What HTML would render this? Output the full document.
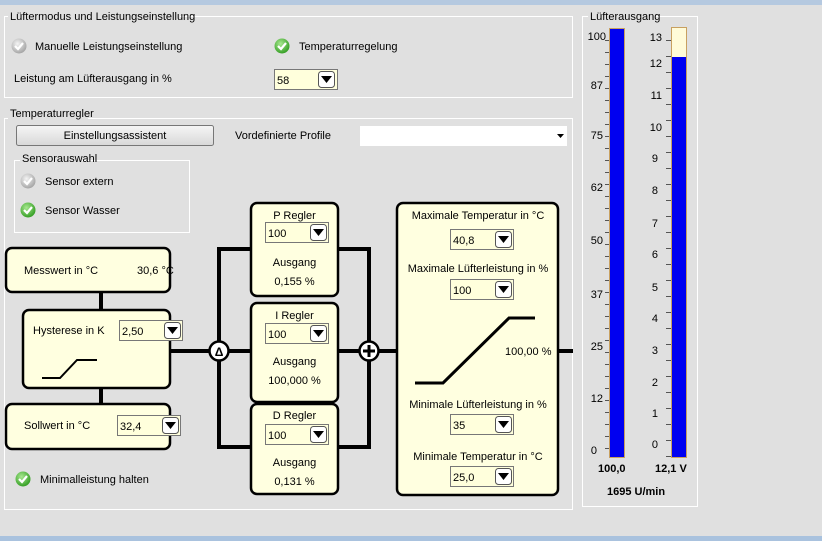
<!DOCTYPE html>
<html><head><meta charset="utf-8"><style>
html,body{margin:0;padding:0;background:#e0e0e0;}
svg{display:block;font-family:"Liberation Sans",sans-serif;font-size:11px;}
</style></head><body>
<svg width="822" height="541" viewBox="0 0 822 541" xmlns="http://www.w3.org/2000/svg">
<defs>
<radialGradient id="g" cx="0.4" cy="0.35" r="0.7"><stop offset="0" stop-color="#a8e890"/><stop offset="1" stop-color="#2e9a1e"/></radialGradient>
<radialGradient id="gr" cx="0.4" cy="0.35" r="0.7"><stop offset="0" stop-color="#f4f4f4"/><stop offset="1" stop-color="#a0a0a0"/></radialGradient>
<linearGradient id="btn" x1="0" y1="0" x2="0" y2="1"><stop offset="0" stop-color="#f6f6f6"/><stop offset="1" stop-color="#d8d8d8"/></linearGradient>
<g id="ok"><circle r="7.5" fill="url(#g)"/><path d="M-4,0 L-1,3 L4,-3" stroke="#fff" stroke-width="2.2" fill="none"/></g>
<g id="no"><circle r="7.5" fill="url(#gr)"/><path d="M-4,0 L-1,3 L4,-3" stroke="#fff" stroke-width="2.2" fill="none"/></g>
<g id="dd"><rect x="0.5" y="0.5" width="16" height="16" rx="3" fill="#fff" stroke="#555"/><path d="M3,5 L14,5 L8.5,12 Z" fill="#000"/></g>
</defs>
<rect width="822" height="541" fill="#e0e0e0"/>
<rect x="0" y="0" width="822" height="5" fill="#b5c9e0"/>
<rect x="0" y="536" width="822" height="5" fill="#a9c2de"/>

<rect x="4.5" y="16.5" width="568" height="81" fill="none" stroke="#fff"/>
<rect x="8" y="8" width="172" height="14" fill="#e0e0e0"/>
<text x="10" y="20" fill="#000">Lüftermodus und Leistungseinstellung</text>
<use href="#no" x="19" y="46"/><text x="35" y="50">Manuelle Leistungseinstellung</text>
<use href="#ok" x="282" y="46"/><text x="299" y="50">Temperaturregelung</text>
<text x="14" y="82">Leistung am Lüfterausgang in %</text>
<rect x="274.5" y="69.5" width="63" height="20" fill="#ffffdc" stroke="#777"/><text x="277" y="84">58</text><use href="#dd" x="318" y="71"/>

<rect x="4.5" y="118.5" width="568" height="391" fill="none" stroke="#fff"/>
<rect x="8" y="108" width="80" height="14" fill="#e0e0e0"/>
<text x="10" y="117">Temperaturregler</text>
<rect x="16.5" y="125.5" width="197" height="20" rx="2" fill="url(#btn)" stroke="#777"/>
<text x="115" y="139" text-anchor="middle">Einstellungsassistent</text>
<text x="235" y="139">Vordefinierte Profile</text>
<rect x="360" y="126" width="207" height="20" fill="#fff"/><path d="M557,134 L564,134 L560.5,138 Z" fill="#000"/>
<rect x="14.5" y="160.5" width="175" height="72" fill="none" stroke="#fff"/>
<rect x="20" y="152" width="62" height="14" fill="#e0e0e0"/>
<text x="22" y="162">Sensorauswahl</text>
<use href="#no" x="28" y="181"/><text x="45" y="185">Sensor extern</text>
<use href="#ok" x="28" y="210"/><text x="45" y="214">Sensor Wasser</text>

<g stroke="#000" stroke-width="4" fill="none">
<line x1="101" y1="290" x2="101" y2="312"/>
<line x1="101" y1="386" x2="101" y2="406"/>
<line x1="170" y1="351" x2="398" y2="351"/>
<path d="M250,249 L219,249 L219,447 L250,447"/>
<path d="M338,249 L369,249 L369,447 L338,447"/>
<line x1="558" y1="351" x2="573" y2="351"/>
</g>
<circle cx="219" cy="351" r="9.5" fill="#fff" stroke="#000" stroke-width="2.5"/>
<text x="219" y="356" text-anchor="middle" font-weight="bold" font-size="12">Δ</text>
<circle cx="369" cy="351" r="9.5" fill="#fff" stroke="#000" stroke-width="2.5"/>
<path d="M363,351 L375,351 M369,345 L369,357" stroke="#000" stroke-width="3"/>

<g fill="#ffffe0" stroke="#000" stroke-width="2.5">
<rect x="6" y="248" width="164" height="44" rx="6"/>
<rect x="23" y="310" width="147" height="78" rx="6"/>
<rect x="6" y="404" width="164" height="45" rx="6"/>
<rect x="251" y="203" width="87" height="93" rx="6"/>
<rect x="251" y="303" width="87" height="99" rx="6"/>
<rect x="251" y="404" width="87" height="90" rx="6"/>
<rect x="397" y="203" width="161" height="292" rx="6"/>
</g>

<text x="24" y="274">Messwert in °C</text><text x="137" y="274">30,6 °C</text>
<text x="33" y="334">Hysterese in K</text>
<rect x="119.5" y="320.5" width="63" height="20" fill="#ffffdc" stroke="#777"/><text x="122" y="335">2,50</text><use href="#dd" x="164" y="322"/>
<path d="M42,378 L60,378 L77,360 L97,360" stroke="#000" stroke-width="2" fill="none"/>
<text x="24" y="429">Sollwert in °C</text>
<rect x="117.5" y="415.5" width="63" height="20" fill="#ffffdc" stroke="#777"/><text x="120" y="430">32,4</text><use href="#dd" x="162" y="417"/>

<text x="294.5" y="219" text-anchor="middle">P Regler</text>
<rect x="265.5" y="222.5" width="63" height="20" fill="#ffffdc" stroke="#777"/><text x="268" y="237">100</text><use href="#dd" x="310" y="224"/>
<text x="294.5" y="266" text-anchor="middle">Ausgang</text><text x="294.5" y="285" text-anchor="middle">0,155 %</text>

<text x="294.5" y="319" text-anchor="middle">I Regler</text>
<rect x="265.5" y="323.5" width="63" height="20" fill="#ffffdc" stroke="#777"/><text x="268" y="338">100</text><use href="#dd" x="310" y="325"/>
<text x="294.5" y="365" text-anchor="middle">Ausgang</text><text x="294.5" y="384" text-anchor="middle">100,000 %</text>

<text x="294.5" y="419" text-anchor="middle">D Regler</text>
<rect x="265.5" y="424.5" width="63" height="20" fill="#ffffdc" stroke="#777"/><text x="268" y="439">100</text><use href="#dd" x="310" y="426"/>
<text x="294.5" y="466" text-anchor="middle">Ausgang</text><text x="294.5" y="485" text-anchor="middle">0,131 %</text>

<text x="478" y="219" text-anchor="middle">Maximale Temperatur in °C</text>
<rect x="450.5" y="229.5" width="63" height="20" fill="#ffffdc" stroke="#777"/><text x="453" y="244">40,8</text><use href="#dd" x="495" y="231"/>
<text x="478" y="272" text-anchor="middle">Maximale Lüfterleistung in %</text>
<rect x="450.5" y="279.5" width="63" height="20" fill="#ffffdc" stroke="#777"/><text x="453" y="294">100</text><use href="#dd" x="495" y="281"/>
<path d="M415,383 L443,383 L509,318 L535,318" stroke="#000" stroke-width="3" fill="none"/>
<text x="505" y="355">100,00 %</text>
<text x="478" y="408" text-anchor="middle">Minimale Lüfterleistung in %</text>
<rect x="450.5" y="414.5" width="63" height="20" fill="#ffffdc" stroke="#777"/><text x="453" y="429">35</text><use href="#dd" x="495" y="416"/>
<text x="478" y="460" text-anchor="middle">Minimale Temperatur in °C</text>
<rect x="450.5" y="466.5" width="63" height="20" fill="#ffffdc" stroke="#777"/><text x="453" y="481">25,0</text><use href="#dd" x="495" y="468"/>

<use href="#ok" x="23" y="479"/><text x="40" y="483">Minimalleistung halten</text>

<rect x="582.5" y="16.5" width="115" height="490" fill="none" stroke="#fff"/>
<rect x="588" y="9" width="68" height="14" fill="#e0e0e0"/>
<text x="590" y="20">Lüfterausgang</text>
<rect x="609.5" y="28.5" width="15" height="429" fill="#0000f0" stroke="#c8a060"/>
<rect x="671.5" y="27.5" width="15" height="430" fill="#0000f0" stroke="#c8a060"/>
<rect x="672" y="28" width="14" height="29" fill="#fffbd8"/>
<g fill="#000" text-anchor="end">
<text x="606" y="40">100</text><text x="603" y="89">87</text><text x="603" y="139">75</text><text x="603" y="191">62</text><text x="603" y="244">50</text><text x="603" y="298">37</text><text x="603" y="350">25</text><text x="603" y="402">12</text><text x="597" y="454">0</text>
<text x="662" y="41">13</text><text x="662" y="67">12</text><text x="662" y="99">11</text><text x="662" y="131">10</text><text x="658" y="162">9</text><text x="658" y="194">8</text><text x="658" y="227">7</text><text x="658" y="258">6</text><text x="658" y="291">5</text><text x="658" y="322">4</text><text x="658" y="354">3</text><text x="658" y="386">2</text><text x="658" y="417">1</text><text x="658" y="448">0</text>
</g>
<g stroke="#555" stroke-width="1">
<path d="M605,40.5h4M605,52.5h4M605,64.5h4M605,76.5h4M605,88.5h4M605,100.5h4M605,112.5h4M605,124.5h4M605,136.5h4M605,148.5h4M605,160.5h4M605,172.5h4M605,184.5h4M605,196.5h4M605,208.5h4M605,220.5h4M605,232.5h4M605,244.5h4M605,256.5h4M605,268.5h4M605,280.5h4M605,292.5h4M605,304.5h4M605,316.5h4M605,328.5h4M605,340.5h4M605,352.5h4M605,364.5h4M605,376.5h4M605,388.5h4M605,400.5h4M605,412.5h4M605,424.5h4M605,436.5h4M605,448.5h4"/>
<path d="M666,40.5h5M666,56.5h5M666,72.5h5M666,88.5h5M666,104.5h5M666,120.5h5M666,136.5h5M666,152.5h5M666,168.5h5M666,184.5h5M666,200.5h5M666,216.5h5M666,232.5h5M666,248.5h5M666,264.5h5M666,280.5h5M666,296.5h5M666,312.5h5M666,328.5h5M666,344.5h5M666,360.5h5M666,376.5h5M666,392.5h5M666,408.5h5M666,424.5h5M666,440.5h5M666,456.5h5"/>
</g>
<text x="598" y="472" font-weight="bold">100,0</text>
<text x="655" y="472" font-weight="bold">12,1 V</text>
<text x="607" y="495" font-weight="bold">1695 U/min</text>
</svg>
</body></html>
